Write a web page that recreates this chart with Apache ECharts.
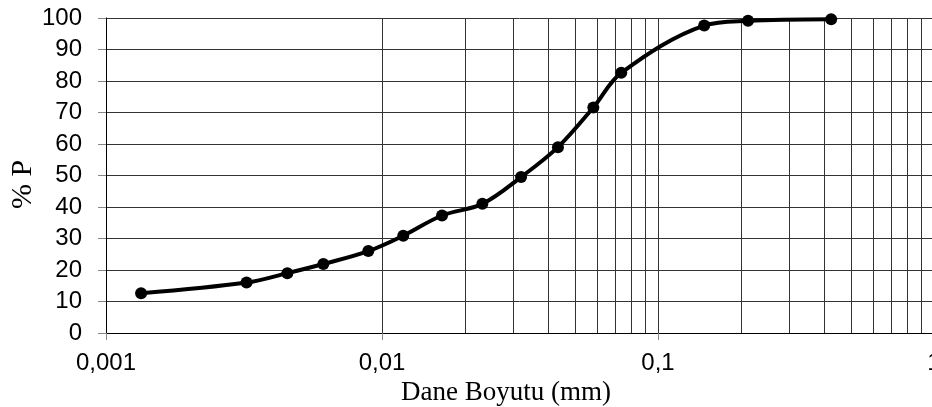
<!DOCTYPE html>
<html>
<head>
<meta charset="utf-8">
<script src="https://cdn.jsdelivr.net/npm/echarts@6/dist/echarts.min.js"></script>
<style>
  html, body { margin: 0; padding: 0; background: #fff; }
  #chart { width: 932px; height: 407px; }
</style>
</head>
<body>
<div id="chart"></div>
<script>
// Grain size (mm) and percent passing
const grainSizes = [0.00134, 0.00323, 0.00454, 0.00613, 0.00892, 0.01194, 0.0165, 0.0231, 0.0319, 0.0434, 0.0583, 0.0736, 0.147, 0.212, 0.424];
const percentPassing = [12.6, 16.0, 19.0, 21.9, 26.0, 30.9, 37.3, 41.0, 49.5, 59.0, 71.6, 82.6, 97.6, 99.1, 99.6];
const xTickLabels = ['0,001', '0,01', '0,1', '1'];
const minorGridValues = [
  0.002, 0.003, 0.004, 0.005, 0.006, 0.007, 0.008, 0.009,
  0.02, 0.03, 0.04, 0.05, 0.06, 0.07, 0.08, 0.09,
  0.2, 0.3, 0.4, 0.5, 0.6, 0.7, 0.8, 0.9
];
const xAxisTitle = 'Dane Boyutu (mm)';
const yAxisTitle = '% P';

const chart = echarts.init(document.getElementById('chart'), null, { renderer: 'canvas' });
const gridColor = '#333';
chart.setOption({
  animation: false,
  backgroundColor: '#fff',
  grid: { left: 106, right: -2, top: 18, bottom: 74, containLabel: false, outerBoundsMode: 'none' },
  xAxis: {
    type: 'log', logBase: 10, min: 0.001, max: 1,
    name: xAxisTitle, nameLocation: 'middle', nameGap: 46, nameMoveOverlap: false,
    nameTextStyle: { fontFamily: 'Liberation Serif', fontSize: 27, color: '#000', padding: [0, 28, 0, 0] },
    axisLine: { show: true, lineStyle: { color: '#000', width: 1 } },
    axisTick: { show: true, length: 7, lineStyle: { color: '#888' } },
    axisLabel: {
      fontFamily: 'Liberation Sans', fontSize: 24, color: '#000', margin: 18,
      formatter: v => xTickLabels[Math.round(Math.log10(v)) + 3]
    },
    splitLine: { show: true, lineStyle: { color: gridColor, width: 1 } },
    minorTick: { show: false }, minorSplitLine: { show: false }
  },
  yAxis: {
    type: 'value', min: 0, max: 100, interval: 10,
    name: yAxisTitle, nameLocation: 'middle', nameGap: 68, nameRotate: 90, nameMoveOverlap: false,
    nameTextStyle: { fontFamily: 'Liberation Serif', fontSize: 30, color: '#000', padding: [0, 18, 0, 0] },
    axisLine: { show: true, lineStyle: { color: '#000', width: 1 } },
    axisTick: { show: true, length: 8, lineStyle: { color: '#888' } },
    axisLabel: { fontFamily: 'Liberation Sans', fontSize: 24, color: '#000', margin: 24 },
    splitLine: { show: true, lineStyle: { color: gridColor, width: 1 } }
  },
  series: [
    {
      type: 'line', data: [], z: 1, silent: true,
      markLine: {
        silent: true, symbol: ['none', 'none'], animation: false,
        label: { show: false },
        lineStyle: { color: gridColor, width: 1, type: 'solid' },
        emphasis: { disabled: true },
        data: minorGridValues.map(v => ({ xAxis: v }))
      }
    },
    {
      type: 'line', z: 5,
      data: grainSizes.map((s, i) => [s, percentPassing[i]]),
      smooth: 0.35,
      symbol: 'circle', symbolSize: 12,
      lineStyle: { color: '#000', width: 4 },
      itemStyle: { color: '#000' }
    }
  ]
});
</script>
</body>
</html>
